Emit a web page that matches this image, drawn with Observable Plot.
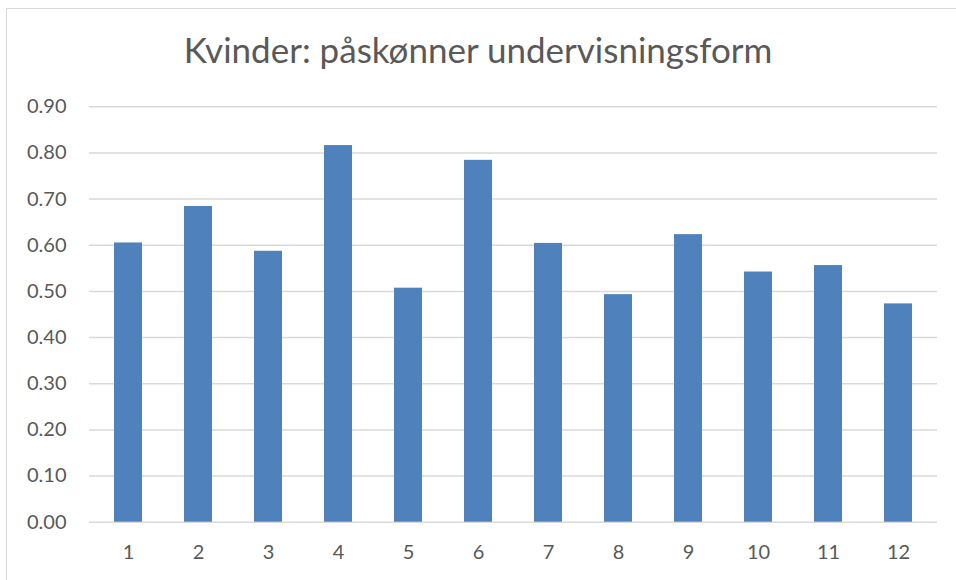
<!DOCTYPE html>
<html>
<head>
<meta charset="utf-8">
<script src="https://cdn.jsdelivr.net/npm/d3@7"></script>
<script src="https://cdn.jsdelivr.net/npm/@observablehq/plot@0.6"></script>
<style>
  html, body { margin: 0; padding: 0; background: #fff; }
  #wrap { position: relative; width: 956px; height: 580px; overflow: hidden; }
  #frame { position: absolute; left: 6px; top: 8px; width: 980px; height: 600px; border: 1.5px solid #d9d9d9; box-sizing: border-box; }
  #title { position: absolute; left: 0; top: 28px; width: 956px; text-align: center; font-family: Lato, "Open Sans", sans-serif; font-size: 35px; color: #595959; }
  #chart { position: absolute; left: 0; top: 0; }
</style>
</head>
<body>
<div id="wrap">
  <div id="frame"></div>
  <div id="title">Kvinder: påskønner undervisningsform</div>
  <div id="chart"></div>
</div>
<script>
const categories = ["1","2","3","4","5","6","7","8","9","10","11","12"];
const values = [0.605, 0.684, 0.587, 0.816, 0.507, 0.784, 0.604, 0.493, 0.623, 0.542, 0.556, 0.473];
const yTicks = [0, 0.1, 0.2, 0.3, 0.4, 0.5, 0.6, 0.7, 0.8, 0.9];
const title = "Kvinder: påskønner undervisningsform";

const data = categories.map((c, i) => ({cat: c, value: values[i]}));
document.getElementById("title").textContent = title;

const chart = Plot.plot({
  width: 956,
  height: 580,
  marginLeft: 89,
  marginRight: 19,
  marginTop: 106.3,
  marginBottom: 58.3,
  style: {fontFamily: "Lato, 'Open Sans', sans-serif", fontSize: "20px", color: "#595959", background: "transparent", overflow: "visible"},
  x: {domain: categories, paddingInner: 0.6, paddingOuter: 0.3, label: null},
  y: {domain: [0, 0.9], label: null},
  marks: [
    Plot.gridY(yTicks, {stroke: "#d9d9d9", strokeOpacity: 1, strokeWidth: 1.5}),
    Plot.barY(data, {x: "cat", y: "value", fill: "#4f81bd"}),
    Plot.axisY(yTicks, {tickSize: 0, tickPadding: 23, tickFormat: d => d.toFixed(2), fontSize: 20, fill: "#595959", label: null}),
    Plot.axisX({tickSize: 0, tickPadding: 23, fontSize: 20, fill: "#595959", label: null})
  ]
});
document.getElementById("chart").appendChild(chart);
</script>
</body>
</html>
